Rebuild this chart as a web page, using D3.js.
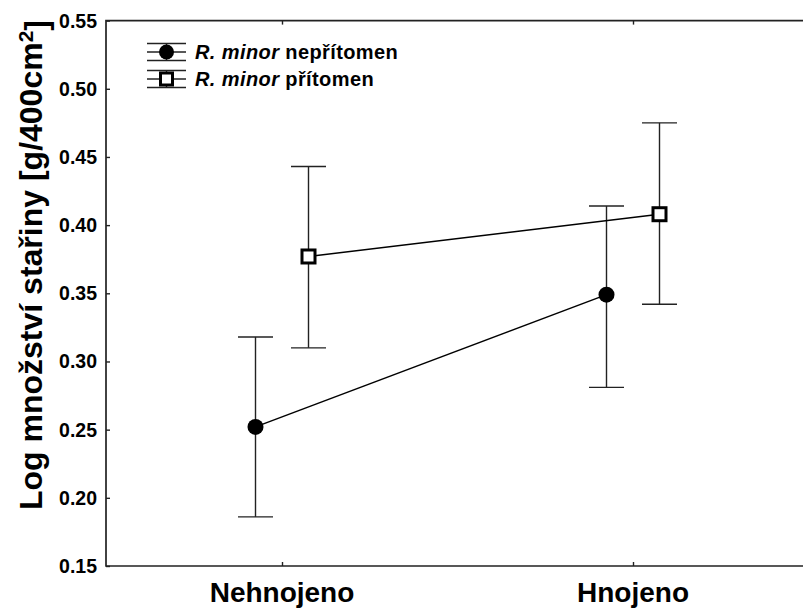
<!DOCTYPE html>
<meta charset="utf-8">
<head>
  <title>Log množství stařiny</title>
  <style>
    body { margin: 0; background: #fff; }
    text, tspan { font-family: "Liberation Sans", Arial, sans-serif; font-weight: bold; fill: #000; }
  </style>
</head>
<body>
  <script src="https://d3js.org/d3.v7.min.js"></script>
  <div id="chart"></div>
  <script>
    // data
    var categories = ["Nehnojeno", "Hnojeno"];
    var seriesNames = ["nepřítomen", "přítomen"];
    var absentMean = [0.252, 0.349];
    var absentLow  = [0.186, 0.281];
    var absentHigh = [0.318, 0.414];
    var presentMean = [0.377, 0.408];
    var presentLow  = [0.310, 0.342];
    var presentHigh = [0.443, 0.475];
    var yTicks = [0.15, 0.20, 0.25, 0.30, 0.35, 0.40, 0.45, 0.50, 0.55];

    var W = 803, H = 608;
    var plotLeft = 106, plotTop = 20.6, plotBottom = 566, plotRight = 809;

    var svg = d3.select("#chart").append("svg")
      .attr("width", W).attr("height", H);

    var x = d3.scalePoint().domain(categories).range([282, 633]);
    var off = d3.scalePoint().domain(seriesNames).range([-26.5, 26.5]);
    var y = d3.scaleLinear().domain([0.15, 0.55]).range([plotBottom, plotTop]);

    var series = [
      {name: seriesNames[0], mean: absentMean, lo: absentLow, hi: absentHigh, shape: "circle"},
      {name: seriesNames[1], mean: presentMean, lo: presentLow, hi: presentHigh, shape: "square"}
    ];

    // y axis (ticks inward)
    var yAxis = svg.append("g")
      .attr("transform", "translate(" + plotLeft + ",0)")
      .call(d3.axisRight(y).tickValues(yTicks).tickSize(4).tickFormat(""));
    yAxis.select(".domain").remove();
    svg.append("g").selectAll("text").data(yTicks).enter().append("text")
      .attr("x", 97).attr("y", function(d) { return y(d); })
      .attr("dy", "0.36em").attr("text-anchor", "end")
      .style("font-size", "19.5px")
      .text(function(d) { return d3.format(".2f")(d); });

    // x axis bottom + top ticks
    var xb = svg.append("g").attr("transform", "translate(0," + plotBottom + ")")
      .call(d3.axisTop(x).tickSize(4).tickFormat(""));
    xb.select(".domain").remove();
    var xt = svg.append("g").attr("transform", "translate(0," + plotTop + ")")
      .call(d3.axisBottom(x).tickSize(4).tickFormat(""));
    xt.select(".domain").remove();
    svg.selectAll("g.tick line").attr("stroke", "#222").attr("stroke-width", 1.4);

    svg.append("g").selectAll("text").data(categories).enter().append("text")
      .attr("x", function(d) { return x(d); }).attr("y", 602)
      .attr("text-anchor", "middle")
      .style("font-size", "28px")
      .text(function(d) { return d; });

    // frame
    svg.append("path")
      .attr("d", "M" + plotRight + "," + plotTop + "H" + plotLeft + "V" + plotBottom + "H" + plotRight)
      .attr("fill", "none").attr("stroke", "#222").attr("stroke-width", 1.7);

    // y title
    var yt = svg.append("text")
      .attr("transform", "translate(42,265) rotate(-90)")
      .attr("text-anchor", "middle")
      .style("font-size", "32px");
    yt.append("tspan").text("Log množství stařiny [g/400cm");
    yt.append("tspan").attr("dy", "-0.45em").style("font-size", "21px").text("2");
    yt.append("tspan").attr("dy", "0.45em").text("]");

    // series lines, error bars, markers
    series.forEach(function(s) {
      var px = function(i) { return x(categories[i]) + off(s.name); };
      var line = d3.line()
        .x(function(d, i) { return px(i); })
        .y(function(d) { return y(d); });
      svg.append("path").datum(s.mean).attr("d", line)
        .attr("fill", "none").attr("stroke", "#000").attr("stroke-width", 1.5);

      var g = svg.append("g");
      s.mean.forEach(function(m, i) {
        var cx = px(i);
        g.append("line").attr("x1", cx).attr("x2", cx)
          .attr("y1", y(s.lo[i])).attr("y2", y(s.hi[i]));
        [s.lo[i], s.hi[i]].forEach(function(v) {
          g.append("line").attr("x1", cx - 17.5).attr("x2", cx + 17.5)
            .attr("y1", y(v)).attr("y2", y(v));
        });
      });
      g.selectAll("line").attr("stroke", "#222").attr("stroke-width", 1.4);

      s.mean.forEach(function(m, i) {
        var cx = px(i), cy = y(m);
        if (s.shape === "circle") {
          svg.append("circle").attr("cx", cx).attr("cy", cy).attr("r", 8).attr("fill", "#000");
        } else {
          svg.append("rect").attr("x", cx - 6.5).attr("y", cy - 6.5)
            .attr("width", 13).attr("height", 13)
            .attr("fill", "#fff").attr("stroke", "#000").attr("stroke-width", 3);
        }
      });
    });

    // legend
    var legY = [52, 79];
    series.forEach(function(s, k) {
      var cy = legY[k], cx = 166.5;
      var lg = svg.append("g");
      [-8.5, 0, 8.5].forEach(function(dy) {
        lg.append("line").attr("x1", 147).attr("x2", 186)
          .attr("y1", cy + dy).attr("y2", cy + dy);
      });
      lg.append("line").attr("x1", cx).attr("x2", cx).attr("y1", cy - 8.5).attr("y2", cy + 8.5);
      lg.selectAll("line").attr("stroke", "#222").attr("stroke-width", 1.4);
      if (s.shape === "circle") {
        lg.append("circle").attr("cx", cx).attr("cy", cy).attr("r", 7.5).attr("fill", "#000");
      } else {
        lg.append("rect").attr("x", cx - 6).attr("y", cy - 6).attr("width", 12).attr("height", 12)
          .attr("fill", "#fff").attr("stroke", "#000").attr("stroke-width", 3);
      }
      var t = lg.append("text").attr("x", 195).attr("y", cy + 7)
        .style("font-size", "20px").style("letter-spacing", "0.4px");
      t.append("tspan").style("font-style", "italic").text("R. minor");
      t.append("tspan").text(" " + s.name);
    });
  </script>
</body>
